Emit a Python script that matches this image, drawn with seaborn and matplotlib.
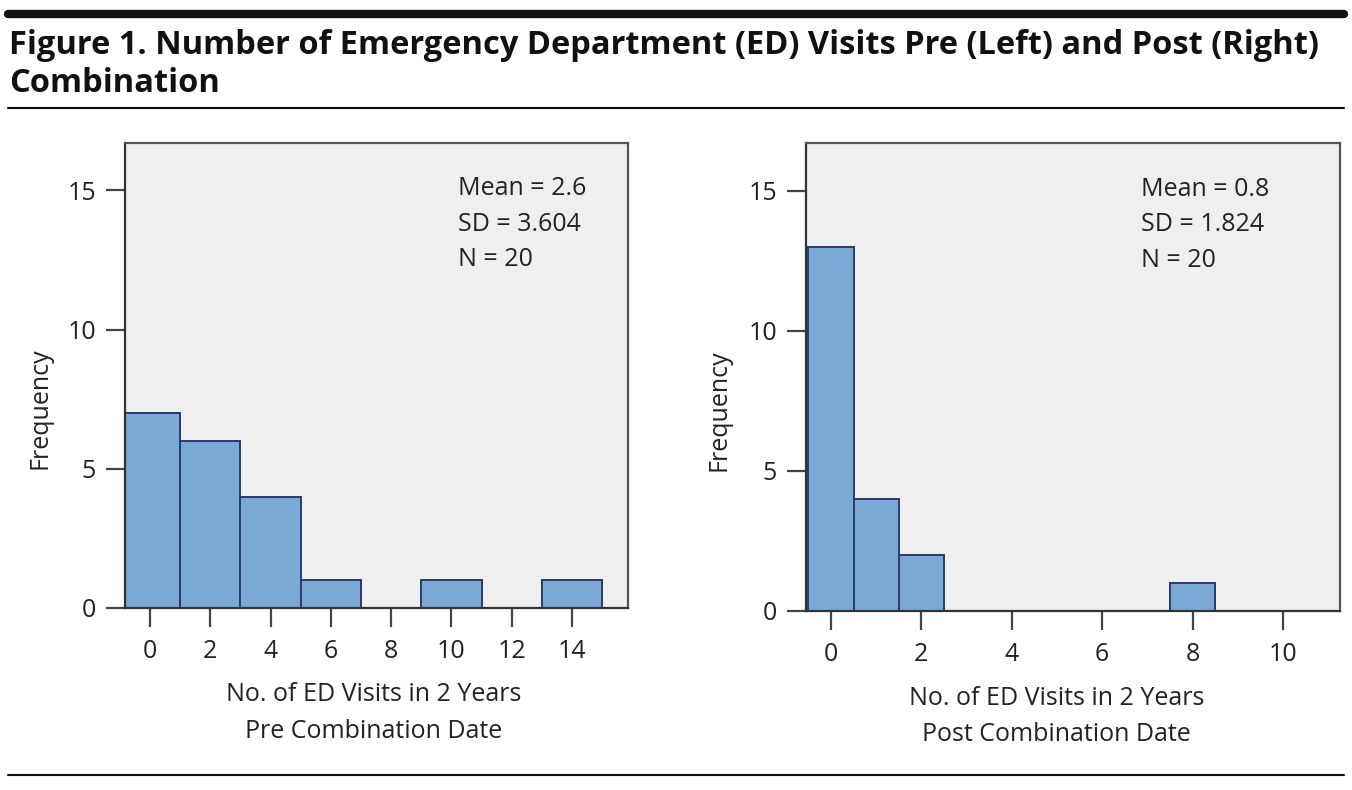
import matplotlib
matplotlib.use('Agg')
import matplotlib.pyplot as plt
import seaborn as sns
import pandas as pd

# Histogram data
pre_visits = [0, 2, 4, 6, 8, 10, 12, 14]
pre_counts = [7, 6, 4, 1, 0, 1, 0, 1]
post_visits = [0, 1, 2, 3, 4, 5, 6, 7, 8, 9, 10]
post_counts = [13, 4, 2, 0, 0, 0, 0, 0, 1, 0, 0]

pre_stats = ['Mean = 2.6', 'SD = 3.604', 'N = 20']
post_stats = ['Mean = 0.8', 'SD = 1.824', 'N = 20']

title = ('Figure 1. Number of Emergency Department (ED) Visits Pre (Left) and Post (Right)\n'
         'Combination')

pre = pd.DataFrame({'visits': pre_visits, 'count': pre_counts})
post = pd.DataFrame({'visits': post_visits, 'count': post_counts})

sns.set_style('white')
plt.rcParams['font.family'] = ['Open Sans', 'DejaVu Sans']

bar_color = '#7aa9d6'
edge_color = '#2b3a6b'
bg = '#efefef'
frame = '#555555'
txt = '#222222'
fs = 18

fig = plt.figure(figsize=(13.52, 7.9), dpi=100)

ax1 = fig.add_axes([0.0925, 0.2304, 0.372, 0.5886])
ax2 = fig.add_axes([0.5962, 0.2266, 0.395, 0.5924])


def style_axes(ax):
    ax.set_facecolor(bg)
    for s in ax.spines.values():
        s.set_color(frame)
        s.set_linewidth(1.6)
    ax.spines['left'].set_color('#333333')
    ax.spines['bottom'].set_color('#333333')
    ax.tick_params(axis='both', direction='out', length=14, width=1.6, bottom=True, left=True,
                   color='#444444', labelsize=fs, labelcolor=txt)
    ax.tick_params(axis='x', pad=8)
    ax.tick_params(axis='y', pad=7)
    ax.set_yticks([0, 5, 10, 15])
    ax.set_ylabel('Frequency', fontsize=fs, color=txt)


sns.histplot(data=pre, x='visits', weights='count', binwidth=2, binrange=(-1, 15),
             color=bar_color, edgecolor=edge_color, linewidth=1.4, alpha=1, ax=ax1)
ax1.set_xlim(-0.83, 15.86)
ax1.set_ylim(0, 16.7)
ax1.set_xticks([0, 2, 4, 6, 8, 10, 12, 14])
style_axes(ax1)
ax1.yaxis.set_label_coords(-0.145, 0.43)
ax1.set_xlabel('No. of ED Visits in 2 Years\nPre Combination Date', fontsize=fs,
               color=txt, linespacing=1.6)
ax1.xaxis.set_label_coords(0.494, -0.16)
ax1.text(0.662, 0.928, '\n'.join(pre_stats), transform=ax1.transAxes, ha='left', va='top',
         fontsize=fs, color=txt, linespacing=1.55)

sns.histplot(data=post, x='visits', weights='count', binwidth=1, binrange=(-0.5, 10.5),
             color=bar_color, edgecolor=edge_color, linewidth=1.4, alpha=1, ax=ax2)
ax2.set_xlim(-0.55, 11.26)
ax2.set_ylim(0, 16.7)
ax2.set_xticks([0, 2, 4, 6, 8, 10])
style_axes(ax2)
ax2.yaxis.set_label_coords(-0.139, 0.43)
ax2.set_xlabel('No. of ED Visits in 2 Years\nPost Combination Date', fontsize=fs,
               color=txt, linespacing=1.6)
ax2.xaxis.set_label_coords(0.469, -0.16)
ax2.text(0.627, 0.928, '\n'.join(post_stats), transform=ax2.transAxes, ha='left', va='top',
         fontsize=fs, color=txt, linespacing=1.55)

# header rules and title
fig.add_artist(plt.Line2D([0.006, 0.994], [1 - 14 / 790, 1 - 14 / 790], color='#111111', lw=6))
fig.add_artist(plt.Line2D([0.006, 0.994], [1 - 108 / 790, 1 - 108 / 790], color='#111111', lw=1.5))
fig.add_artist(plt.Line2D([0.006, 0.994], [1 - 775 / 790, 1 - 775 / 790], color='#111111', lw=1.5))
fig.text(0.007, 1 - 29 / 790, title, ha='left', va='top', fontsize=23.5, fontweight='bold',
         color='#111111', linespacing=1.2)

fig.savefig('out.png', dpi=100)
